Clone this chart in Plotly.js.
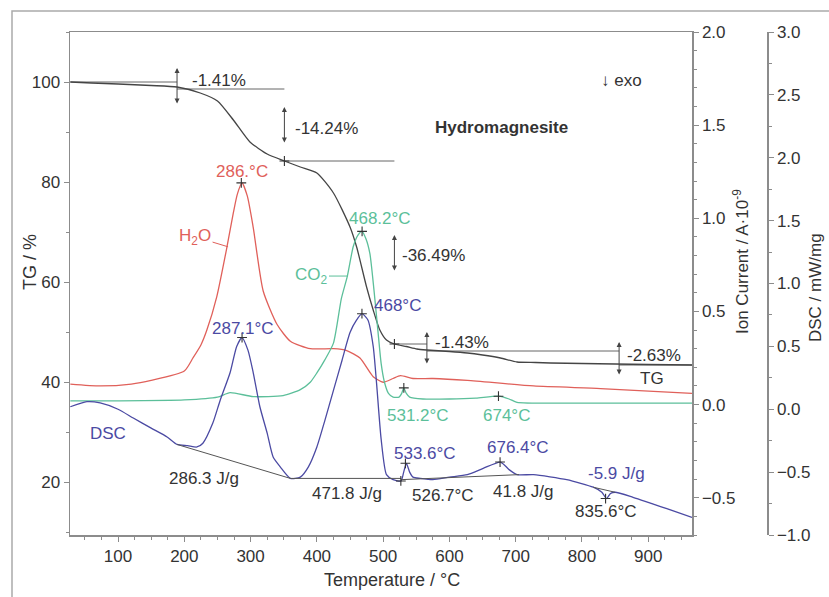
<!DOCTYPE html>
<html>
<head>
<meta charset="utf-8">
<script src="https://cdn.plot.ly/plotly-3.0.1.min.js"></script>
<style>html,body{margin:0;padding:0;background:#fff}</style>
</head>
<body>
<div id="chart" style="width:829px;height:597px"></div>
<script>
// ---- TG (%) ----
const T_TG = [28, 60, 100, 150, 189, 224, 250, 274, 299, 325, 351, 375, 400, 425, 450, 460, 475, 485, 495, 505, 517, 535, 551, 566, 600, 627, 650, 677, 702, 730, 752, 800, 850, 900, 966];
const TG   = [100, 99.8, 99.6, 99.3, 99.0, 97.8, 96.2, 92.4, 88.0, 85.6, 84.2, 83.0, 81.8, 77.8, 71.0, 67.0, 59.0, 54.4, 50.4, 48.4, 47.6, 47.1, 46.6, 46.4, 46.1, 45.8, 45.4, 44.8, 44.0, 43.9, 43.8, 43.7, 43.6, 43.5, 43.4];

// ---- Ion current H2O (A·10^-9) ----
const T_H2O = [28, 73, 120, 150, 200, 213, 225, 234, 249, 264, 274, 280, 287, 295, 304, 319, 340, 360, 390, 425, 445, 465, 485, 500, 515, 526, 545, 575, 627, 727, 828, 966];
const H2O   = [0.11, 0.10, 0.11, 0.13, 0.18, 0.25, 0.32, 0.40, 0.58, 0.84, 1.03, 1.13, 1.19, 1.12, 0.95, 0.61, 0.43, 0.34, 0.30, 0.30, 0.29, 0.25, 0.15, 0.12, 0.14, 0.155, 0.14, 0.14, 0.13, 0.10, 0.086, 0.06];

// ---- Ion current CO2 ----
const T_CO2 = [28, 100, 200, 250, 269, 304, 349, 375, 390, 400, 412, 425, 437, 446, 455, 462, 468, 474, 480, 486, 492, 497, 502, 508, 515, 524, 528, 531, 535, 540, 560, 600, 640, 674, 690, 702, 800, 966];
const CO2   = [0.02, 0.02, 0.025, 0.04, 0.064, 0.043, 0.048, 0.08, 0.12, 0.17, 0.24, 0.33, 0.57, 0.69, 0.85, 0.91, 0.93, 0.89, 0.81, 0.62, 0.40, 0.22, 0.12, 0.06, 0.04, 0.04, 0.06, 0.09, 0.06, 0.04, 0.03, 0.03, 0.035, 0.045, 0.03, 0.012, 0.008, 0.008];

// ---- DSC (mW/mg) ----
const T_DSC = [28, 53, 73, 100, 123, 150, 174, 189, 205, 219, 228, 243, 254, 269, 279, 287, 296, 304, 314, 325, 334, 345, 360, 375, 387, 400, 412, 425, 438, 450, 460, 468, 477, 485, 490, 497, 505, 515, 527, 531, 535, 540, 545, 556, 575, 600, 627, 651, 677, 690, 702, 727, 777, 817, 830, 837, 843, 850, 877, 928, 966];
const DSC   = [0.02, 0.06, 0.05, 0.00, -0.07, -0.15, -0.22, -0.28, -0.29, -0.30, -0.27, -0.11, 0.07, 0.29, 0.50, 0.57, 0.47, 0.29, 0.02, -0.19, -0.38, -0.46, -0.55, -0.54, -0.46, -0.30, -0.09, 0.15, 0.39, 0.61, 0.71, 0.76, 0.71, 0.50, 0.21, -0.24, -0.52, -0.56, -0.57, -0.50, -0.43, -0.50, -0.54, -0.55, -0.56, -0.54, -0.52, -0.47, -0.42, -0.48, -0.52, -0.52, -0.56, -0.62, -0.66, -0.71, -0.67, -0.66, -0.70, -0.79, -0.86];

// ---- DSC integration baselines ----
const baseT = [189, 360, 527, null, 527, 705, null, 817, 850];
const baseV = [-0.28, -0.55, -0.55, null, -0.56, -0.52, null, -0.62, -0.66];

// ---- peak markers ----
const dscPeakT = [287.1, 468, 526.7, 533.6, 676.4, 835.6];
const dscPeakV = [0.57, 0.76, -0.57, -0.43, -0.42, -0.71];
const ionPeakT = [286, 468.2, 531.2, 674];
const ionPeakV = [1.19, 0.93, 0.09, 0.045];
const tgMarkT  = [351, 517];
const tgMarkV  = [84.2, 47.6];

// ---- TG step evaluation ----
const stepLevel = [100, 98.6, 84.2, 47.6, 46.2, 43.4];
const stepStart = [28, 189, 351, 517, 566, 856];
const stepEnd   = [189, 351, 517, 566, 856, 966];
const arrowT    = [189, 351, 517, 566, 856];
const arrowTop  = [102.8, 95.0, 69.4, 50.0, 48.0];
const arrowBot  = [95.4, 87.6, 62.0, 43.4, 41.2];
const stepText  = ['-1.41%', '-14.24%', '-36.49%', '-1.43%', '-2.63%'];
const stepTextT = [208, 364, 525, 575, 865];
const stepTextV = [100.4, 90.8, 65.4, 48.0, 45.4];

// ---- labels ----
const ionLabText = ['286.°C', '468.2°C', '531.2°C', '674°C'];
const ionLabT    = [287, 494.7, 552, 686];
const ionLabV    = [1.249, 0.997, -0.059, -0.059];
const ionLabCol  = ['red', 'green', 'green', 'green'];

const dscLabText = ['287.1°C', '468°C', 'DSC', '286.3 J/g', '471.8 J/g', '526.7°C', '41.8 J/g', '533.6°C', '676.4°C', '-5.9 J/g', '835.6°C'];
const dscLabT    = [288, 521, 84.9, 229.8, 445.6, 590.5, 711.3, 563, 703.7, 851.6, 836.6];
const dscLabV    = [0.646, 0.829, -0.189, -0.547, -0.666, -0.682, -0.658, -0.348, -0.308, -0.507, -0.817];
const dscLabCol  = ['blue', 'blue', 'blue', 'dark', 'dark', 'dark', 'dark', 'blue', 'blue', 'blue', 'dark'];

const COL = {red: '#e0605a', green: '#5cbf9a', blue: '#4b4aa3', dark: '#333333', tg: '#454545', axis: '#8c8c8c'};

// step lines built from arrays
const stepX = [], stepY = [];
stepLevel.forEach((v, i) => { stepX.push(stepStart[i], stepEnd[i], null); stepY.push(v, v, null); });

const mk = {symbol: 'cross-thin', size: 7, line: {width: 1.1, color: '#333'}};
const traces = [
  {x: stepX, y: stepY, yaxis: 'y', mode: 'lines', line: {color: '#666', width: 1}, hoverinfo: 'skip'},
  {x: T_TG, y: TG, yaxis: 'y', mode: 'lines', line: {color: COL.tg, width: 1.3, shape: 'spline', smoothing: 0.6}},
  {x: T_H2O, y: H2O, yaxis: 'y2', mode: 'lines', line: {color: COL.red, width: 1.3, shape: 'spline', smoothing: 0.6}},
  {x: T_CO2, y: CO2, yaxis: 'y2', mode: 'lines', line: {color: COL.green, width: 1.3, shape: 'spline', smoothing: 0.6}},
  {x: T_DSC, y: DSC, yaxis: 'y3', mode: 'lines', line: {color: COL.blue, width: 1.3, shape: 'spline', smoothing: 0.6}},
  {x: baseT, y: baseV, yaxis: 'y3', mode: 'lines', line: {color: '#555', width: 1}},
  {x: dscPeakT, y: dscPeakV, yaxis: 'y3', mode: 'markers', marker: mk},
  {x: ionPeakT, y: ionPeakV, yaxis: 'y2', mode: 'markers', marker: mk},
  {x: tgMarkT, y: tgMarkV, yaxis: 'y', mode: 'markers', marker: mk}
];

const W = 829 - 70 - 10, H = 597 - 32 - 62;
const px = p => (p - 70) / W;
const py = p => (535 - p) / H;

const ann = [];
// double arrows
arrowT.forEach((t, i) => ann.push({x: t, y: arrowTop[i], ax: t, ay: arrowBot[i], xref: 'x', yref: 'y', axref: 'x', ayref: 'y',
  text: '', showarrow: true, arrowhead: 2, arrowsize: 1, arrowwidth: 1, arrowcolor: '#444', arrowside: 'end+start', standoff: 0, startstandoff: 0}));
stepText.forEach((s, i) => ann.push({x: stepTextT[i], y: stepTextV[i], xref: 'x', yref: 'y', text: s, showarrow: false, xanchor: 'left', yanchor: 'middle', font: {color: '#333'}}));
ann.push({x: 906, y: 40.8, xref: 'x', yref: 'y', text: 'TG', showarrow: false, xanchor: 'center', yanchor: 'middle', font: {color: '#333'}});
ann.push({x: 678, y: 91, xref: 'x', yref: 'y', text: '<b>Hydromagnesite</b>', showarrow: false, xanchor: 'center', yanchor: 'middle', font: {color: '#333'}});
ann.push({x: 859, y: 100.4, xref: 'x', yref: 'y', text: '↓ exo', showarrow: false, xanchor: 'center', yanchor: 'middle', font: {color: '#333'}});
ionLabText.forEach((s, i) => ann.push({x: ionLabT[i], y: ionLabV[i], xref: 'x', yref: 'y2', text: s, showarrow: false, xanchor: 'center', yanchor: 'middle', font: {color: COL[ionLabCol[i]]}}));
dscLabText.forEach((s, i) => ann.push({x: dscLabT[i], y: dscLabV[i], xref: 'x', yref: 'y3', text: s, showarrow: false, xanchor: 'center', yanchor: 'middle', font: {color: COL[dscLabCol[i]]}}));
ann.push({x: 266, y: 0.847, xref: 'x', yref: 'y2', ax: -33, ay: -10, text: 'H<sub>2</sub>O', showarrow: true, arrowhead: 0, arrowwidth: 1, arrowcolor: COL.red, font: {color: COL.red}});
ann.push({x: 447, y: 0.69, xref: 'x', yref: 'y2', ax: -37, ay: 0, text: 'CO<sub>2</sub>', showarrow: true, arrowhead: 0, arrowwidth: 1, arrowcolor: COL.green, font: {color: COL.green}});
// axis titles
const titleCommon = {xref: 'paper', yref: 'paper', showarrow: false, xanchor: 'center', yanchor: 'middle'};
ann.push(Object.assign({x: px(30), y: py(262), text: 'TG / %', textangle: -90, font: {size: 18, color: '#333'}}, titleCommon));
ann.push(Object.assign({x: px(392), y: py(580), text: 'Temperature / °C', font: {size: 18, color: '#333'}}, titleCommon));
ann.push(Object.assign({x: px(741), y: py(262), text: 'Ion Current / A·10<sup>-9</sup>', textangle: -90, font: {size: 17, color: '#333'}}, titleCommon));
ann.push(Object.assign({x: px(815), y: py(288), text: 'DSC / mW/mg', textangle: -90, font: {size: 17, color: '#333'}}, titleCommon));

const axisCommon = {showline: true, linecolor: COL.axis, linewidth: 1.5, showgrid: false, zeroline: false,
  ticks: 'outside', ticklen: 5, tickwidth: 1, tickcolor: COL.axis, tickfont: {size: 17, color: '#333'}};

const layout = {
  width: 829, height: 597,
  margin: {l: 70, r: 10, t: 32, b: 62},
  paper_bgcolor: '#fff', plot_bgcolor: '#fff',
  font: {family: 'Liberation Sans, Arial, sans-serif', size: 17, color: '#333'},
  showlegend: false,
  xaxis: Object.assign({}, axisCommon, {domain: [0, 622 / W], range: [27.5, 966], tickvals: [100, 200, 300, 400, 500, 600, 700, 800, 900],
    mirror: true, minor: {dtick: 25, tick0: 0, ticks: 'outside', ticklen: 3, tickcolor: COL.axis}}),
  yaxis: Object.assign({}, axisCommon, {range: [9.4, 110], tickvals: [20, 40, 60, 80, 100],
    minor: {dtick: 10, tick0: 0, ticks: 'outside', ticklen: 3, tickcolor: COL.axis}}),
  yaxis2: Object.assign({}, axisCommon, {overlaying: 'y', side: 'right', anchor: 'x', range: [-0.70, 2.0], dtick: 0.5, tick0: 0, tickformat: '.1f',
    minor: {dtick: 0.1, tick0: 0, ticks: 'outside', ticklen: 3, tickcolor: COL.axis}}),
  yaxis3: Object.assign({}, axisCommon, {overlaying: 'y', side: 'right', anchor: 'free', position: (767 - 70) / W, range: [-1.0, 3.0], dtick: 0.5, tick0: 0, tickformat: '.1f',
    minor: {dtick: 0.25, tick0: 0, ticks: 'outside', ticklen: 3, tickcolor: COL.axis}}),
  annotations: ann,
  shapes: [{type: 'path', xref: 'paper', yref: 'paper', path: `M ${px(12)} ${py(600)} L ${px(12)} ${py(11)} L ${px(832)} ${py(11)}`, line: {color: '#aaa', width: 1.5}}]
};

Plotly.newPlot('chart', traces, layout, {displayModeBar: false, staticPlot: true});
</script>
</body>
</html>
